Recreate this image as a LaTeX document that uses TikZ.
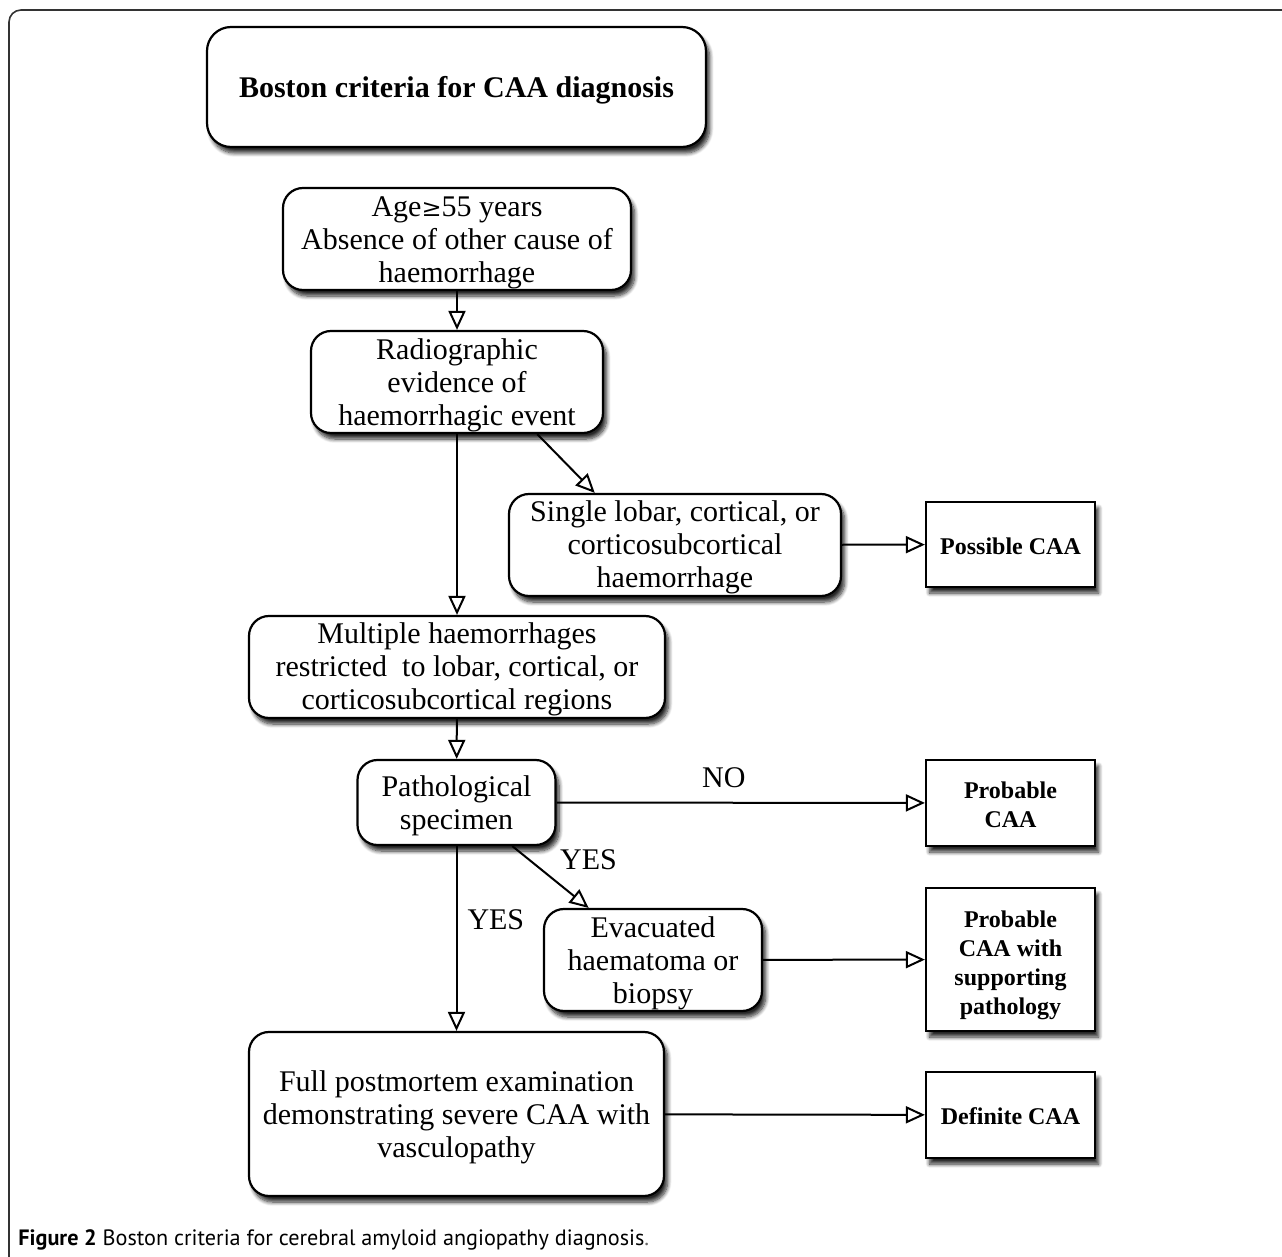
\documentclass[tikz,border=0pt]{standalone}
\usepackage{fontspec}
\setmainfont{Liberation Serif}
\newfontfamily\capfont{PT Sans}
\usetikzlibrary{arrows.meta,positioning,shadows.blur}
\newcommand\lift[1]{\rule{0pt}{#1}}

\tikzset{
	shade/.style={blur shadow={shadow xshift=1.8pt, shadow yshift=-3pt, shadow blur radius=2pt, shadow blur steps=8, shadow opacity=85}},
	rbox/.style={draw, line width=1.1pt, rounded corners=10pt, fill=white, shade, inner sep=0pt, align=center, font=\fontsize{15}{16.5}\selectfont},
	sbox/.style={draw, line width=1.1pt, fill=white, shade, inner sep=0pt, align=center, minimum width=84.5pt, font=\fontsize{12}{14.5}\selectfont\bfseries},
	flow/.style={line width=1pt, -{Triangle[open, length=9.5pt, width=8.5pt]}},
	yesno/.style={font=\fontsize{15}{16.5}\selectfont, inner sep=0pt}
}

\begin{document}
\begin{tikzpicture}[x=0.5pt, y=-0.5pt]
		%%%%% START %%%%%
		\useasboundingbox (0, 0) rectangle (1282, 1257);
		\draw[line width=0.8pt, black!80, rounded corners=6pt] (9, 1257) |- (1282, 10);
		
		\node[rbox, rounded corners=12pt, minimum width=249.5pt, minimum height=60pt, font=\fontsize{15}{16.5}\selectfont\bfseries] (title) at (456.5, 87) {\lift{13.6pt}Boston criteria for CAA diagnosis};
		
		\node[rbox, minimum width=174pt, minimum height=51pt] (age) at (457, 239) {\lift{14.2pt}Age{\fontspec{DejaVu Serif}\fontsize{12}{14}\selectfont ≥}55 years\\Absence of other cause of\\haemorrhage};
		\node[rbox, minimum width=146pt, minimum height=51pt] (radio) at (457, 382) {\lift{13.4pt}Radiographic\\evidence of\\haemorrhagic event};
		\node[rbox, minimum width=166pt, minimum height=51pt] (single) at (675, 545) {\lift{12.6pt}Single lobar, cortical, or\\corticosubcortical\\haemorrhage};
		\node[rbox, minimum width=208pt, minimum height=51pt] (multi) at (457, 667) {\lift{12.6pt}Multiple haemorrhages\\restricted\ \ to lobar, cortical, or\\corticosubcortical regions};
		\node[rbox, minimum width=99pt, minimum height=42.5pt] (patho) at (456.5, 802.5) {\lift{13.4pt}Pathological\\specimen};
		\node[rbox, minimum width=109pt, minimum height=51pt] (evac) at (653, 960) {\lift{13.4pt}Evacuated\\haematoma or\\biopsy};
		\node[rbox, minimum width=207.5pt, minimum height=82pt] (full) at (456.5, 1114) {\lift{14.2pt}Full postmortem examination\\demonstrating severe CAA with\\vasculopathy};
		
		\node[sbox, minimum height=42.5pt] (possible) at (1010.5, 544.5) {\lift{9.8pt}Possible CAA};
		\node[sbox, minimum height=43pt] (probable) at (1010.5, 803) {\lift{10.2pt}Probable\\CAA};
		\node[sbox, minimum height=71.5pt] (support) at (1010.5, 959.5) {\lift{14.2pt}Probable\\CAA with\\supporting\\pathology};
		\node[sbox, minimum height=43pt] (definite) at (1010.5, 1115) {\lift{9.8pt}Definite CAA};
		
		% connectors
		\draw[flow] (age) -- (radio);
		\draw[flow] (radio) -- (multi);
		\draw[flow] (radio.-33) -- (single.147);
		\draw[flow] (single) -- (possible);
		\draw[flow] (multi) -- (patho);
		\draw[flow] (patho) -- node[yesno, pos=0.454, above=7pt] (no) {NO} (probable);
		\draw[flow] (patho.-38) -- node[yesno, pos=0.22, right=15pt] (yes1) {YES} (evac.141);
		\draw[flow] (patho) -- node[yesno, pos=0.4, right=5pt] (yes2) {YES} (full);
		\draw[flow] (evac) -- (support);
		\draw[flow] (full) -- (definite);
		
		\node[anchor=west, inner sep=0pt, font=\capfont\fontsize{11.1}{13}\selectfont] (caption) at (18, 1240) {\textbf{Figure 2} Boston criteria for cerebral amyloid angiopathy diagnosis\textcolor{black!60}{.}};
		%%%%% END %%%%%
	\end{tikzpicture}
\end{document}
